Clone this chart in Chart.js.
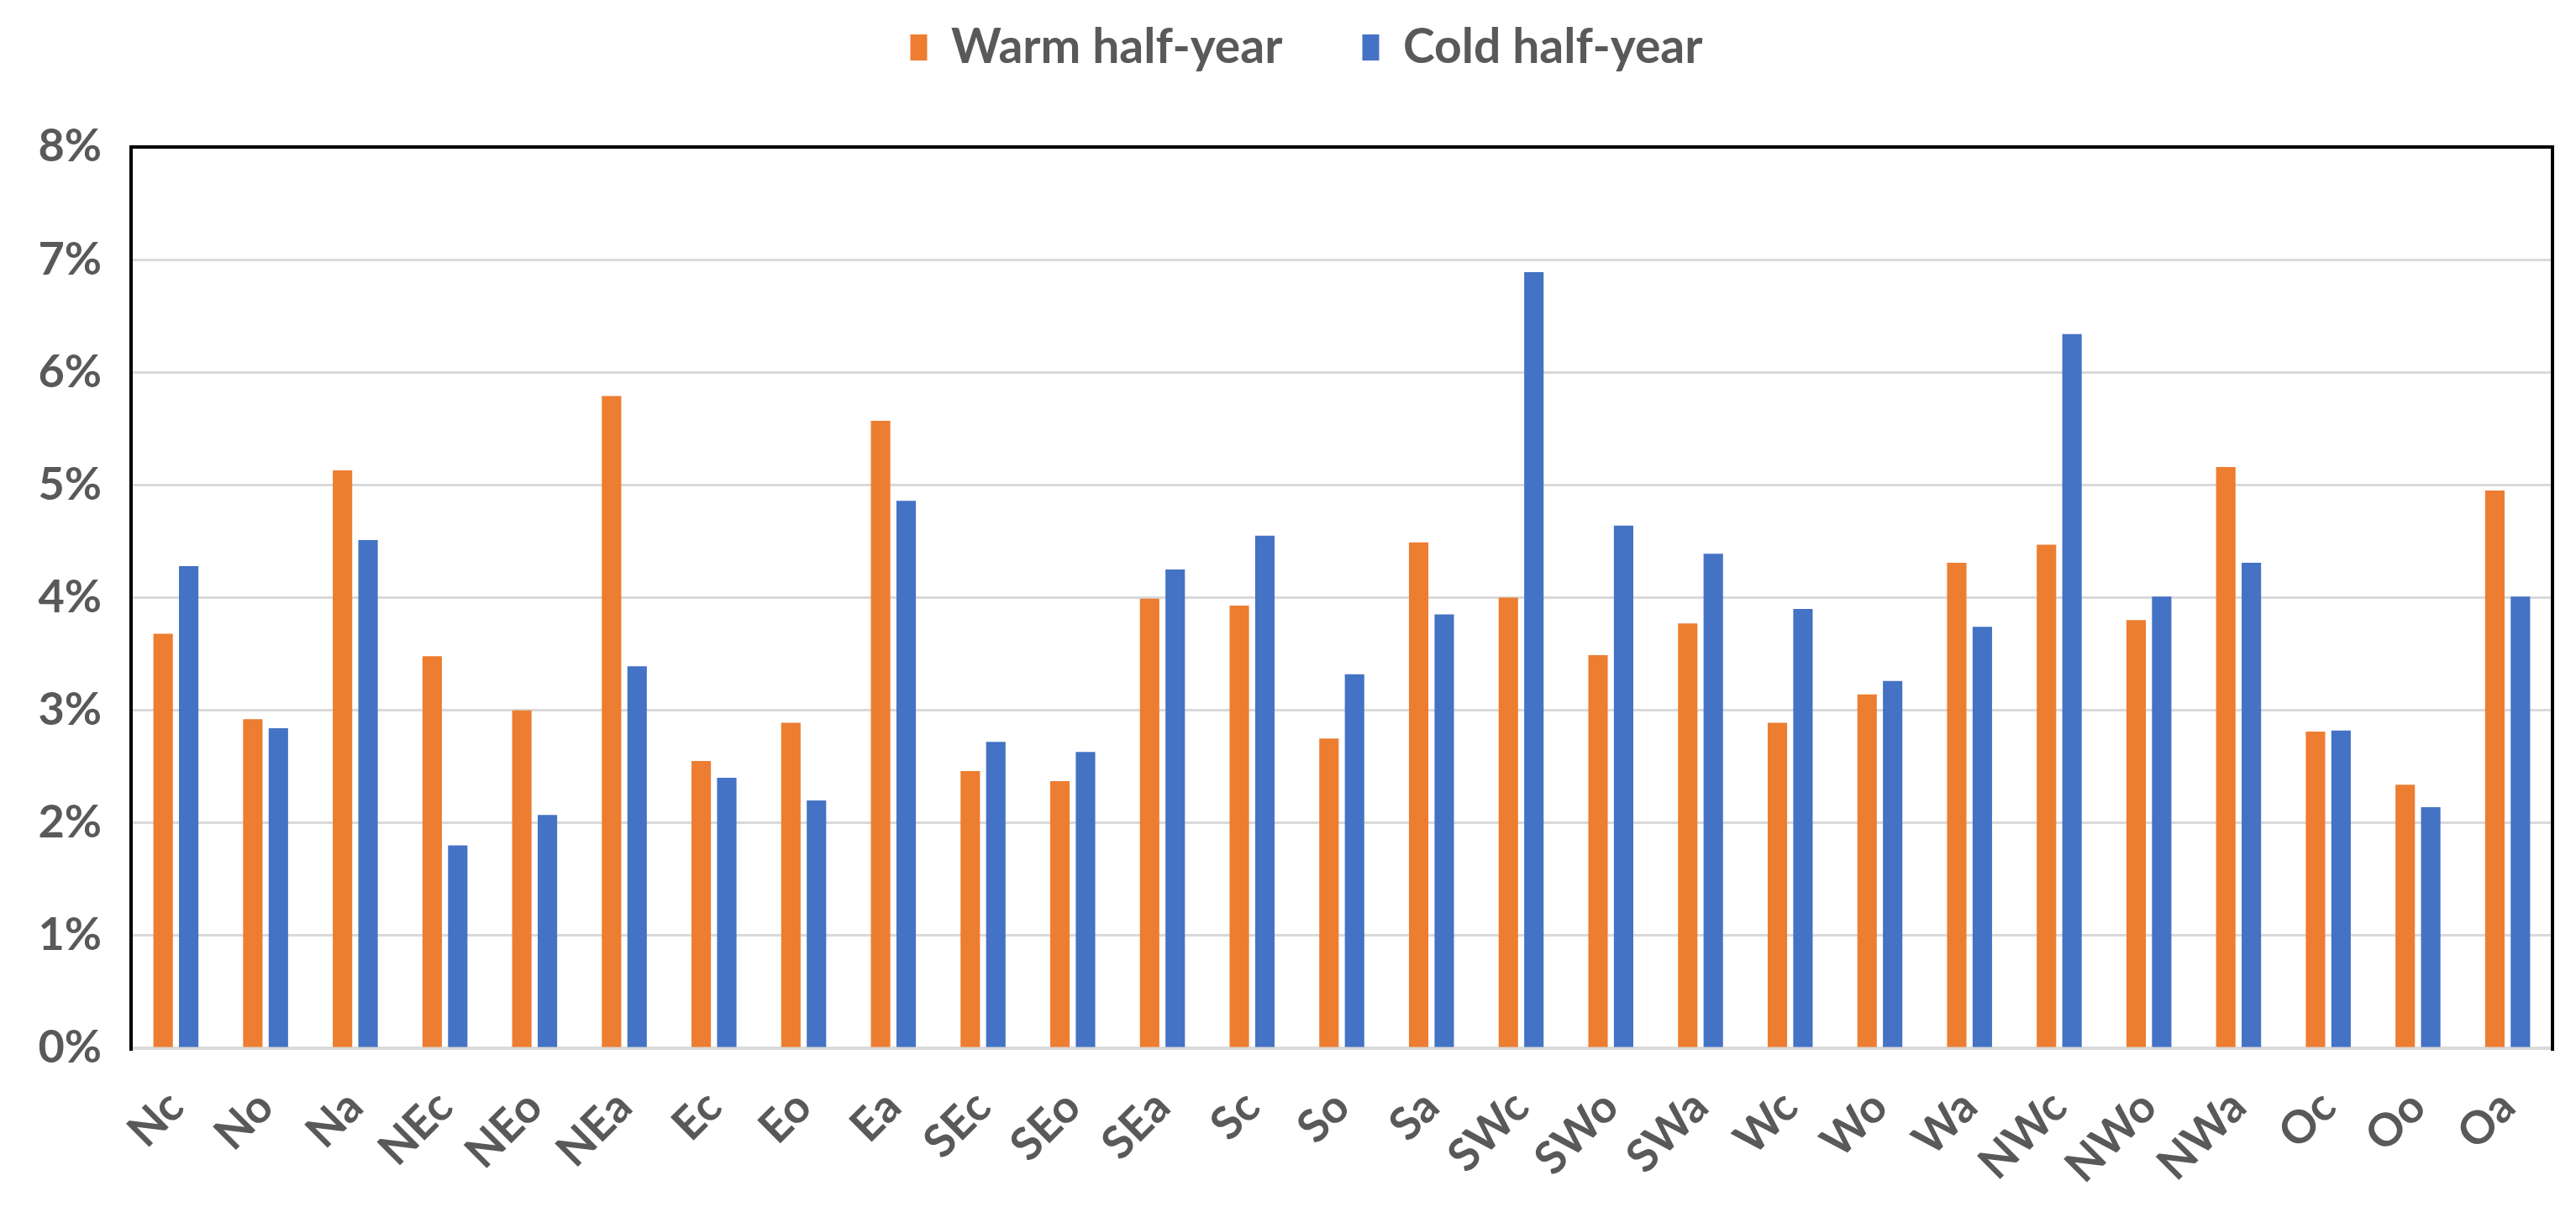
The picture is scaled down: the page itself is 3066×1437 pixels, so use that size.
<!DOCTYPE html>
<html>
<head>
<meta charset="utf-8">
<script src="https://cdn.jsdelivr.net/npm/chart.js@4.4.0/dist/chart.umd.min.js"></script>
<style>
  html, body { margin: 0; padding: 0; background: #fff; }
  #wrap { width: 3066px; height: 1437px; }
</style>
</head>
<body>
<div id="wrap"><canvas id="wt-graph" width="3066" height="1437"></canvas></div>
<script>
// weather types, % of days per half-year
var labels = ['Nc', 'No', 'Na', 'NEc', 'NEo', 'NEa', 'Ec', 'Eo', 'Ea',
              'SEc', 'SEo', 'SEa', 'Sc', 'So', 'Sa', 'SWc', 'SWo', 'SWa',
              'Wc', 'Wo', 'Wa', 'NWc', 'NWo', 'NWa', 'Oc', 'Oo', 'Oa'];
var warmValues = [3.68, 2.92, 5.13, 3.48, 3.00, 5.79, 2.55, 2.89, 5.57,
                  2.46, 2.37, 3.99, 3.93, 2.75, 4.49, 4.00, 3.49, 3.77,
                  2.89, 3.14, 4.31, 4.47, 3.80, 5.16, 2.81, 2.34, 4.95];
var coldValues = [4.28, 2.84, 4.51, 1.80, 2.07, 3.39, 2.40, 2.20, 4.86,
                  2.72, 2.63, 4.25, 4.55, 3.32, 3.85, 6.89, 4.64, 4.39,
                  3.90, 3.26, 3.74, 6.34, 4.01, 4.31, 2.82, 2.14, 4.01];
var yTicks = [0, 1, 2, 3, 4, 5, 6, 7, 8];

var textGray = '#595959';
var fontFamily = 'Lato, "Liberation Sans", Arial, sans-serif';

// black frame on top, left and right of the plot area
var plotFrame = {
    id: 'plotFrame',
    afterLayout: function(chart) {
        // legend sits a little right of the canvas centre
        if (chart.legend) {
            chart.legend.left += 26;
            chart.legend.right += 26;
        }
    },
    afterDatasetsDraw: function(chart) {
        var a = chart.chartArea;
        var ctx = chart.ctx;
        ctx.save();
        ctx.strokeStyle = '#000';
        ctx.lineWidth = 4;
        ctx.beginPath();
        ctx.moveTo(a.left, a.bottom + 3);
        ctx.lineTo(a.left, a.top);
        ctx.lineTo(a.right, a.top);
        ctx.lineTo(a.right, a.bottom + 3);
        ctx.stroke();
        ctx.restore();
    }
};

var ctx = document.getElementById('wt-graph');

new Chart(ctx, {
    type: 'bar',
    data: {
        labels: labels,
        datasets: [{
            label: 'Warm half-year',
            data: warmValues,
            backgroundColor: '#ED7D31',
            categoryPercentage: 0.57,
            barPercentage: 0.76
        }, {
            label: 'Cold half-year',
            data: coldValues,
            backgroundColor: '#4472C4',
            categoryPercentage: 0.57,
            barPercentage: 0.76
        }]
    },
    plugins: [plotFrame],
    options: {
        responsive: false,
        animation: false,
        devicePixelRatio: 1,
        layout: {
            padding: { top: -67, left: 20, right: 28, bottom: 0 }
        },
        plugins: {
            legend: {
                position: 'top',
                weight: 3000,
                labels: {
                    color: textGray,
                    font: { family: fontFamily, size: 57, weight: 'bold' },
                    boxWidth: 20,
                    boxHeight: 31,
                    padding: 95
                }
            },
            // empty title used only as a spacer between legend and plot
            title: {
                display: true,
                text: '',
                font: { size: 10 },
                padding: { top: 0, bottom: 68 }
            },
            tooltip: { enabled: false }
        },
        scales: {
            x: {
                grid: { display: false },
                border: { color: '#D9D9D9', width: 4 },
                ticks: {
                    color: textGray,
                    font: { family: fontFamily, size: 54, weight: 'bold' },
                    minRotation: 45,
                    maxRotation: 45,
                    padding: 30
                },
                afterFit: function(scale) { scale.height = 189; }
            },
            y: {
                min: 0,
                max: 8,
                afterBuildTicks: function(scale) {
                    scale.ticks = yTicks.map(function(v) { return { value: v }; });
                },
                grid: { color: '#D9D9D9', lineWidth: 3, drawTicks: false },
                border: { color: '#000', width: 4 },
                ticks: {
                    color: textGray,
                    font: { family: fontFamily, size: 54, weight: 'bold' },
                    padding: 35,
                    callback: function(value) { return value + '%'; }
                },
                afterFit: function(scale) { scale.width = 136; }
            }
        }
    }
});
</script>
</body>
</html>
